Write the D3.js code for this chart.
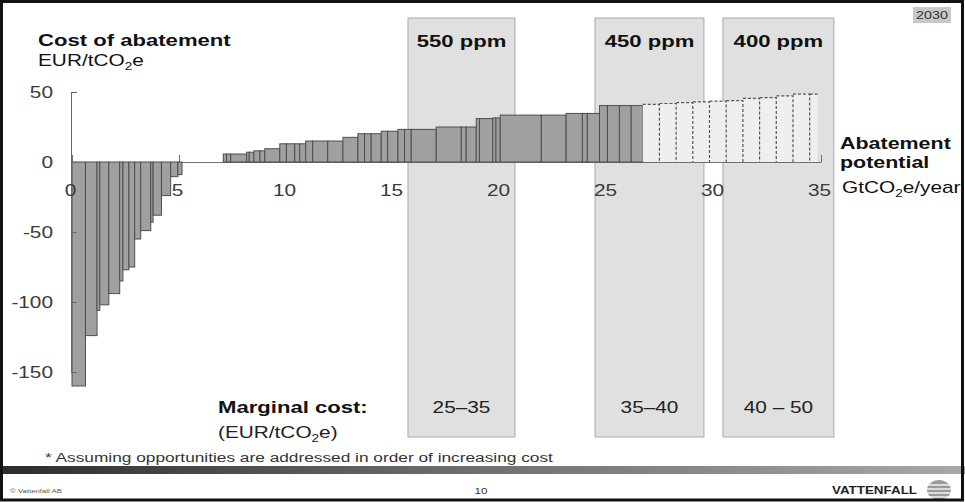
<!DOCTYPE html>
<html>
<head>
<meta charset="utf-8">
<script src="https://cdn.jsdelivr.net/npm/d3@7"></script>
<style>
  body { margin: 0; background: #fff; }
  svg { display: block; font-family: "Liberation Sans", Arial, sans-serif; }
</style>
</head>
<body>
<div id="scene"></div>
<script>
var ctx = {
  w: 965,
  h: 502,
  sx: 1.3   // the slide is stretched sideways, text too
};

// abatement measures: width = potential (GtCO2e/year), cost = EUR/tCO2e
// (a cost of 0 is the empty stretch between the negative and positive measures)
var solidWidths = [0.63, 0.54, 0.13, 0.42, 0.51, 0.15, 0.28, 0.27, 0.28, 0.47, 0.11, 0.39, 0.43, 0.34, 0.19,
  1.93,
  0.15, 0.2, 0.74, 0.12, 0.22, 0.28, 0.23, 0.70, 0.31, 0.39, 0.23, 0.28, 0.33, 0.70, 0.71, 0.70,
  0.31, 0.31, 0.47, 0.3, 0.48, 0.31, 0.31, 1.17, 1.17, 0.23, 0.47, 0.15, 0.62, 0.15, 0.2,
  1.92, 1.16, 0.76, 0.23, 0.57, 0.37, 0.56, 0.55, 0.54];
var solidCosts = [-160, -124, -106, -102, -94, -85, -77, -75, -55, -49, -43, -38, -24, -10.5, -9,
  0,
  5.7, 5.7, 5.7, 7, 7, 8, 8, 9.5, 13, 13, 13, 13, 15, 15, 15, 17.6,
  20.2, 20.2, 20.2, 22, 22, 23.3, 23.3, 23.3, 25, 25, 25, 31, 31, 31.5, 31.5,
  33.5, 33.5, 34.7, 34.7, 34.7, 40.3, 40.3, 40.3, 40.3];

// further (estimated) measures, drawn dashed
var dashWidths = [0.78, 0.78, 0.78, 0.78, 0.78, 0.78, 0.78, 0.78, 0.78, 0.78, 0.37];
var dashCosts = [41.2, 41.8, 42.4, 43, 43.5, 43.8, 45.5, 46, 47.2, 48.5, 48.5];

var xTicks = [0, 5, 10, 15, 20, 25, 30, 35];
var yTicks = [50, 0, -50, -100, -150];

var bandLabels = ["550 ppm", "450 ppm", "400 ppm"];
var bandFrom = [15.7, 24.44, 30.42];
var bandTo = [20.7, 29.53, 35.6];
var bandCosts = ["25–35", "35–40", "40 – 50"];

var svg = d3.select("#scene").append("svg")
  .attr("width", ctx.w)
  .attr("height", ctx.h);

var x = d3.scaleLinear().domain([0, 35]).range([72, 821]);
var y = d3.scaleLinear().domain([-150, 50]).range([372, 92]);

var addText = function(px, py, str, size, weight, anchor, fill) {
  var t = svg.append("text")
    .attr("transform", "translate(" + px + "," + py + ") scale(" + ctx.sx + ",1)")
    .attr("text-anchor", anchor || "start")
    .attr("font-size", size)
    .attr("font-weight", weight || "normal")
    .attr("fill", fill || "#111");
  if(str) t.text(str);
  return t;
};

// "EUR/tCO2e" with a subscript 2
var addUnit = function(t, before, after) {
  t.append("tspan").text(before + "EUR/tCO");
  t.append("tspan").attr("font-size", "0.65em").attr("dy", 4).text("2");
  t.append("tspan").attr("dy", -4).text("e" + after);
};

svg.append("rect")
  .attr("width", ctx.w).attr("height", ctx.h)
  .attr("fill", "#fff");

/******** concentration bands ********/
bandLabels.forEach(function(lbl, i) {
  svg.append("rect")
    .attr("x", x(bandFrom[i]))
    .attr("y", 18)
    .attr("width", x(bandTo[i]) - x(bandFrom[i]))
    .attr("height", 419)
    .attr("fill", "#e0e0e0")
    .attr("stroke", "#a9a9a9");
});

/******** x axis (under the bars) ********/
svg.append("g")
  .attr("transform", "translate(0," + y(0) + ")")
  .call(d3.axisTop(x).tickValues(xTicks).tickSize(7).tickSizeOuter(0).tickFormat(""))
  .call(function(g) {
    g.selectAll("line,path").attr("stroke", "#707070");
  });

/******** bars ********/
var starts = d3.cumsum([0].concat(solidWidths));
var solid = solidWidths.map(function(w, i) {
  return {x0: starts[i], x1: starts[i] + w, c: solidCosts[i]};
}).filter(function(d) { return d.c !== 0; });

svg.selectAll(".bar")
  .data(solid)
  .enter()
  .append("rect")
  .classed("bar", true)
  .attr("x", function(d) { return x(d.x0); })
  .attr("width", function(d) { return x(d.x1) - x(d.x0); })
  .attr("y", function(d) { return y(Math.max(d.c, 0)); })
  .attr("height", function(d) { return Math.abs(y(d.c) - y(0)); })
  .attr("fill", "#a0a0a0")
  .attr("stroke", "#4e4e4e")
  .attr("stroke-width", 1);

var dashStart = starts[starts.length - 1];
var dstarts = d3.cumsum([dashStart].concat(dashWidths));
var dashed = dashWidths.map(function(w, i) {
  return {x0: dstarts[i], x1: dstarts[i] + w, c: dashCosts[i], last: i === dashWidths.length - 1};
});

var dg = svg.append("g");
dg.selectAll("rect")
  .data(dashed)
  .enter()
  .append("rect")
  .attr("x", function(d) { return x(d.x0); })
  .attr("width", function(d) { return x(d.x1) - x(d.x0); })
  .attr("y", function(d) { return y(d.c); })
  .attr("height", function(d) { return y(0) - y(d.c); })
  .attr("fill", "#efefef");

dg.selectAll("path")
  .data(dashed)
  .enter()
  .append("path")
  .attr("d", function(d) {
    var p = "M" + x(d.x0) + "," + y(d.c) + "H" + x(d.x1);
    if(!d.last) p += "V" + y(0);
    return p;
  })
  .attr("fill", "none")
  .attr("stroke", "#555")
  .attr("stroke-width", 1.2)
  .attr("stroke-dasharray", "3,2");

/******** y axis ********/
svg.append("g")
  .attr("transform", "translate(71,0)")
  .call(d3.axisRight(y).tickValues(yTicks).tickSize(6).tickSizeOuter(0).tickFormat(""))
  .call(function(g) {
    g.selectAll("line,path").attr("stroke", "#6a6a6a");
  });

yTicks.forEach(function(v) {
  addText(53, y(v) + 6, String(v), 16, "normal", "end", "#3a3a3a");
});

xTicks.forEach(function(v) {
  addText(x(v) - 1.5, 196, String(v), 16, "normal", "middle", "#3a3a3a");
});

/******** titles ********/
addText(38, 46, "Cost of abatement", 17, "bold");
addUnit(addText(38, 66, null, 16), "", "");

addText(840, 149, "Abatement", 16.5, "bold");
addText(840, 168, "potential", 16.5, "bold");
var gt = addText(842, 193, null, 16);
gt.append("tspan").text("GtCO");
gt.append("tspan").attr("font-size", "0.65em").attr("dy", 4).text("2");
gt.append("tspan").attr("dy", -4).text("e/year");

bandLabels.forEach(function(lbl, i) {
  var cx = (x(bandFrom[i]) + x(bandTo[i])) / 2;
  addText(cx, 47, lbl, 17, "bold", "middle");
  addText(cx, 413, bandCosts[i], 16, "normal", "middle", "#222");
});

addText(218, 413, "Marginal cost:", 17, "bold");
addUnit(addText(218, 438, null, 16, "normal", "start", "#222"), "(", ")");

addText(45, 462, "* Assuming opportunities are addressed in order of increasing cost", 13.3, "normal", "start", "#333");

// year tag
svg.append("rect")
  .attr("x", 913).attr("y", 7).attr("width", 38).attr("height", 16)
  .attr("fill", "#c9c9c9");
addText(932, 19, "2030", 11, "normal", "middle", "#333");

/******** footer ********/
var grad = svg.append("defs").append("linearGradient").attr("id", "footGrad");
grad.append("stop").attr("offset", "0%").attr("stop-color", "#2c2c2c");
grad.append("stop").attr("offset", "45%").attr("stop-color", "#6a6a6a");
grad.append("stop").attr("offset", "100%").attr("stop-color", "#a8a8a8");

svg.append("rect")
  .attr("x", 0).attr("y", 466).attr("width", ctx.w).attr("height", 8)
  .attr("fill", "url(#footGrad)");

addText(10, 493, "© Vattenfall AB", 6, "normal", "start", "#555");
addText(481, 494, "10", 9, "normal", "middle", "#333");
addText(832, 494, "VATTENFALL", 10.3, "bold", "start", "#222");

// logo: a small striped globe
var logo = svg.append("g").attr("transform", "translate(939,490)");
logo.append("ellipse").attr("rx", 12).attr("ry", 10).attr("fill", "#9a9a9a");
[-5, -1, 3, 7].forEach(function(dy) {
  logo.append("line")
    .attr("x1", -13).attr("x2", 13).attr("y1", dy).attr("y2", dy)
    .attr("stroke", "#fff").attr("stroke-width", 1.3);
});

/******** frame ********/
svg.append("rect")
  .attr("x", 1.5).attr("y", 1.5)
  .attr("width", 961).attr("height", 498.5)
  .attr("fill", "none")
  .attr("stroke", "#111")
  .attr("stroke-width", 3);
</script>
</body>
</html>
